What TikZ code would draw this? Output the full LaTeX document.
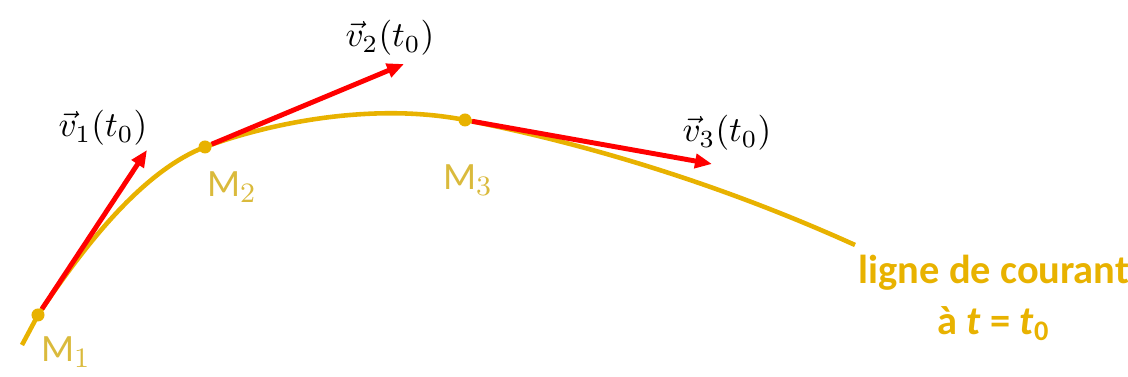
\documentclass[tikz,border=0pt]{standalone}
\usepackage{fontspec}
\setmainfont{Carlito}
\usetikzlibrary{arrows.meta}
\definecolor{courant}{RGB}{232,178,0}
\definecolor{pointlbl}{RGB}{218,186,60}
\definecolor{vitesse}{RGB}{255,0,0}
\begin{document}
\begin{tikzpicture}[x=0.01cm, y=-0.01cm,
        point/.style={circle, fill=courant, inner sep=0pt, minimum size=0.13cm},
        vec/.style={-{Triangle[length=0.17cm, width=0.14cm]}, vitesse, line width=1.4pt},
        ptname/.style={text=pointlbl, font=\fontsize{11}{13}\selectfont},
        vname/.style={font=\fontsize{10}{12}\selectfont}]
    \useasboundingbox (0,0) rectangle (1128,377);
    \coordinate (S) at (22,345);
    \coordinate (E) at (855,245);
    \node[point] (M1) at (38,315) {};
    \node[point] (M2) at (205,147) {};
    \node[point] (M3) at (465,120) {};
    \draw[courant, line width=1.3pt] (S) -- (M1.center) .. controls (80,252) and (140,172) .. (M2.center)
        .. controls (261,126) and (367,101) .. (M3.center) .. controls (583,143) and (718,183) .. (E);
    \coordinate (v1) at (147,150);
    \coordinate (v2) at (404,64);
    \coordinate (v3) at (712,164);
    \draw[vec] (M1) -- (v1);
    \draw[vec] (M2) -- (v2);
    \draw[vec] (M3) -- (v3);
    \node[vname] (l1) at (103,128) {$\vec{v}_1(t_0)$};
    \node[vname] (l2) at (390,38) {$\vec{v}_2(t_0)$};
    \node[vname] (l3) at (727,133) {$\vec{v}_3(t_0)$};
    \node[ptname] (n1) at (66,352) {M$_1$};
    \node[ptname] (n2) at (232,187) {M$_2$};
    \node[ptname] (n3) at (468,180) {M$_3$};
    \node[text=courant, font=\bfseries\fontsize{11.5}{13.5}\selectfont, align=center] (ldc) at (994,298)
        {ligne de courant\\[1pt]à \textit{t} = \textit{t}\textsubscript{0}};
\end{tikzpicture}
\end{document}
